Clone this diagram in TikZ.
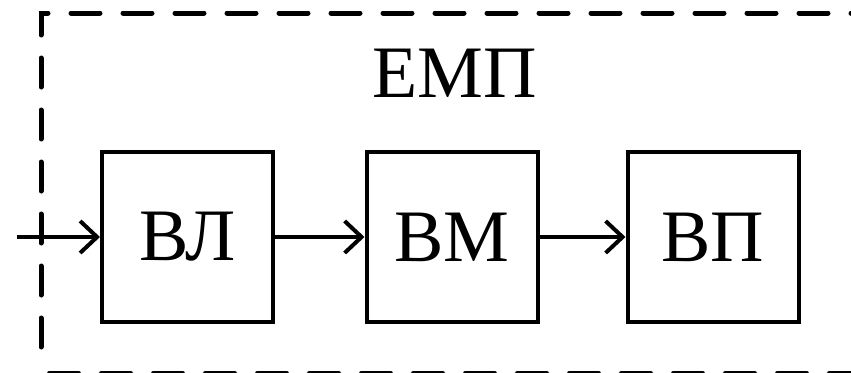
\documentclass[tikz,border=0pt]{standalone}
\usepackage{fontspec}
\setmainfont{Liberation Serif}
\usetikzlibrary{arrows.meta}
\begin{document}
\begin{tikzpicture}[x=1pt,y=-1pt,
  block/.style={draw,line width=4pt,minimum width=171pt,minimum height=170pt,inner sep=0pt,font=\fontsize{74}{80}\selectfont},
  link/.style={line width=4pt,-{Straight Barb[length=17pt,width=32pt,line width=4pt]}},
  frame/.style={line width=5pt,line cap=round,dash pattern=on 29pt off 23pt}
]
\useasboundingbox (0,0) rectangle (851,372);
\clip (0,0) rectangle (851,372);
\draw[frame] (880,13) -- (41,13) -- (41,362);
\draw[frame,dash phase=43.5pt] (41,373) -- (880,373);
\node[font=\fontsize{74}{80}\selectfont] (emp) at (455,73) {ЕМП};
\node[block] (vl) at (187.5,237) {ВЛ};
\node[block] (vm) at (452,237) {ВМ};
\node[block] (vp) at (713,237) {ВП};
\coordinate (in) at (17,237);
\draw[link] (in) -- (vl.west);
\draw[link] (vl.east) -- (vm.west);
\draw[link] (vm.east) -- (vp.west);
\end{tikzpicture}
\end{document}
